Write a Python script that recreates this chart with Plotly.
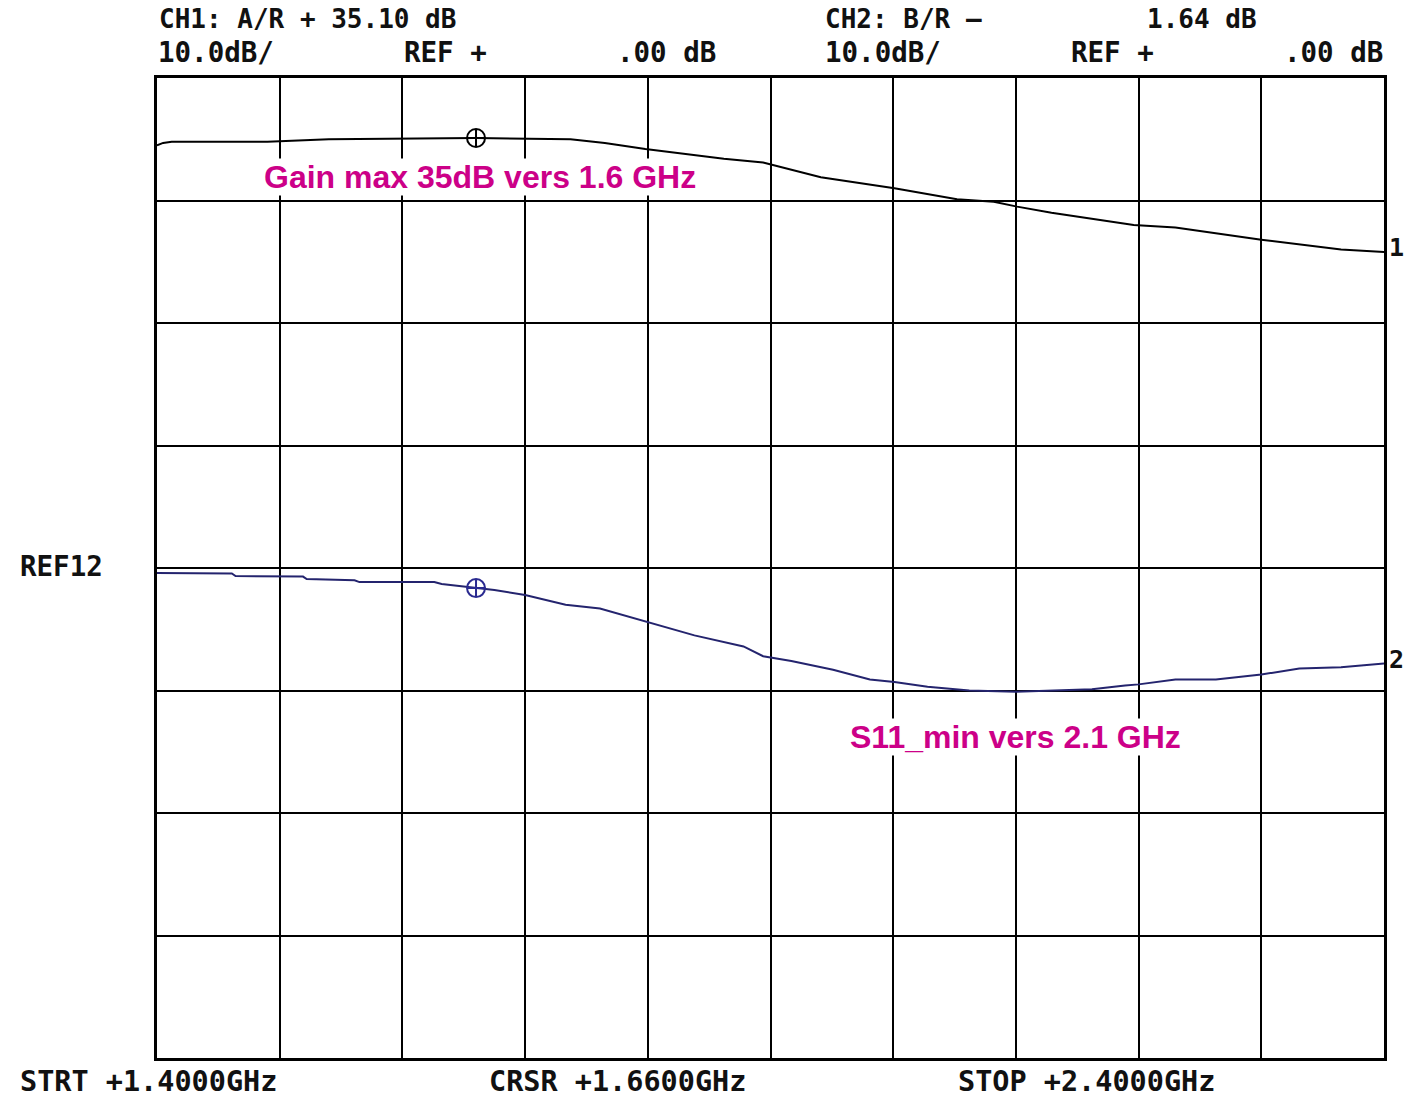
import plotly.graph_objects as go

# CH1 : gain A/R (dB) et CH2 : S11 B/R (dB), balayage 1.4 -> 2.4 GHz
freq_ch1 = [1.400, 1.405, 1.412, 1.490, 1.540, 1.660, 1.737, 1.765, 1.798, 1.862,
            1.894, 1.941, 2.001, 2.052, 2.082, 2.101, 2.129, 2.196, 2.230, 2.300,
            2.365, 2.400]
gain_ch1 = [34.5, 34.7, 34.8, 34.8, 35.0, 35.1, 35.0, 34.7, 34.2, 33.4,
            33.1, 31.9, 31.0, 30.1, 29.9, 29.5, 29.0, 28.0, 27.8, 26.8,
            26.0, 25.8]

freq_ch2 = [1.400, 1.461, 1.464, 1.519, 1.522, 1.561, 1.565, 1.626, 1.632, 1.660,
            1.675, 1.700, 1.733, 1.761, 1.800, 1.838, 1.878, 1.894, 1.917, 1.951,
            1.981, 2.001, 2.028, 2.062, 2.100, 2.129, 2.162, 2.189, 2.200, 2.230,
            2.263, 2.300, 2.331, 2.365, 2.400]
s11_ch2 = [-0.4, -0.45, -0.65, -0.7, -0.9, -1.0, -1.15, -1.15, -1.3, -1.64,
           -1.8, -2.2, -3.0, -3.3, -4.4, -5.5, -6.4, -7.2, -7.6, -8.3,
           -9.1, -9.3, -9.7, -10.0, -10.1, -10.0, -9.9, -9.6, -9.5, -9.1,
           -9.1, -8.7, -8.2, -8.1, -7.8]

cursor_freq = 1.66
cursor_ch1 = 35.10
cursor_ch2 = -1.64

W, H = 1409, 1099
L, R, T, B = 157, 1384, 78, 1058
INSTR = "DejaVu Sans Mono"
PINK = "#cc0088"
NAVY = "#24246e"


def px(x):
    return (x - L) / (R - L)


def py(y):
    return (B - y) / (B - T)


fig = go.Figure()
fig.add_trace(go.Scatter(x=freq_ch1, y=gain_ch1, mode="lines",
                         line=dict(color="black", width=2), name="CH1"))
fig.add_trace(go.Scatter(x=freq_ch2, y=s11_ch2, mode="lines",
                         line=dict(color=NAVY, width=2), name="CH2"))
fig.add_trace(go.Scatter(x=[cursor_freq], y=[cursor_ch1], mode="markers",
                         marker=dict(symbol="circle-cross-open", size=18,
                                     color="black", line=dict(width=2))))
fig.add_trace(go.Scatter(x=[cursor_freq], y=[cursor_ch2], mode="markers",
                         marker=dict(symbol="circle-cross-open", size=18,
                                     color="#2a2a90", line=dict(width=2))))

# textes de l'analyseur (positions en pixels, ancrage, taille de police)
instr_text = [
    ("CH1: A/R + 35.10 dB", 158, 19, "left", "middle", 26),
    ("10.0dB/", 157, 52, "left", "middle", 27.5),
    ("REF +", 403, 52, "left", "middle", 27.5),
    (".00 dB", 717, 52, "right", "middle", 27.5),
    ("CH2: B/R –", 824, 19, "left", "middle", 26),
    ("1.64 dB", 1258, 19, "right", "middle", 26),
    ("10.0dB/", 824, 52, "left", "middle", 27.5),
    ("REF +", 1070, 52, "left", "middle", 27.5),
    (".00 dB", 1384, 52, "right", "middle", 27.5),
    ("REF12", 19, 566, "left", "middle", 27.5),
    ("STRT +1.4000GHz", 19, 1099, "left", "bottom", 28.5),
    ("CRSR +1.6600GHz", 488, 1099, "left", "bottom", 28.5),
    ("STOP +2.4000GHz", 957, 1099, "left", "bottom", 28.5),
]
for txt, x, y, xanc, yanc, size in instr_text:
    fig.add_annotation(text=f"<b>{txt}</b>", x=px(x), y=py(y), xref="paper", yref="paper",
                       xanchor=xanc, yanchor=yanc, showarrow=False, borderpad=0,
                       font=dict(family=INSTR, size=size, color="#111111"))

# numéros de trace en bout de courbe
for label, xs, ys in [("1", freq_ch1, gain_ch1), ("2", freq_ch2, s11_ch2)]:
    fig.add_annotation(text=f"<b>{label}</b>", x=xs[-1], y=ys[-1], xanchor="left",
                       yanchor="middle", xshift=3, yshift=4, showarrow=False,
                       font=dict(family=INSTR, size=25, color="#111111"))

for txt, x, y in [("Gain max 35dB vers 1.6 GHz", 480, 177),
                  ("S11_min vers 2.1 GHz", 1016, 737)]:
    fig.add_annotation(text=f"<b>{txt}</b>", x=px(x), y=py(y), xref="paper", yref="paper",
                       xanchor="center", yanchor="middle", showarrow=False,
                       bgcolor="white", borderpad=0,
                       font=dict(family="Liberation Sans", size=32, color=PINK))

axis_style = dict(showticklabels=False, ticks="", showgrid=True, gridcolor="black",
                  gridwidth=2, zeroline=False, showline=True, linecolor="black",
                  linewidth=2.5, mirror=True, fixedrange=True)
fig.update_xaxes(range=[1.4, 2.4], dtick=0.1, tick0=1.4, **axis_style)
fig.update_yaxes(range=[-40, 40], dtick=10, tick0=0, **axis_style)

fig.update_layout(width=W, height=H, showlegend=False,
                  paper_bgcolor="white", plot_bgcolor="white",
                  margin=dict(l=L, r=W - R, t=T, b=H - B))

# la page HTML ajoute une marge de 8 px autour de la figure : on la supprime
fig.write_html("out.html", config={"displayModeBar": False},
               post_script="document.body.style.margin='0';")
